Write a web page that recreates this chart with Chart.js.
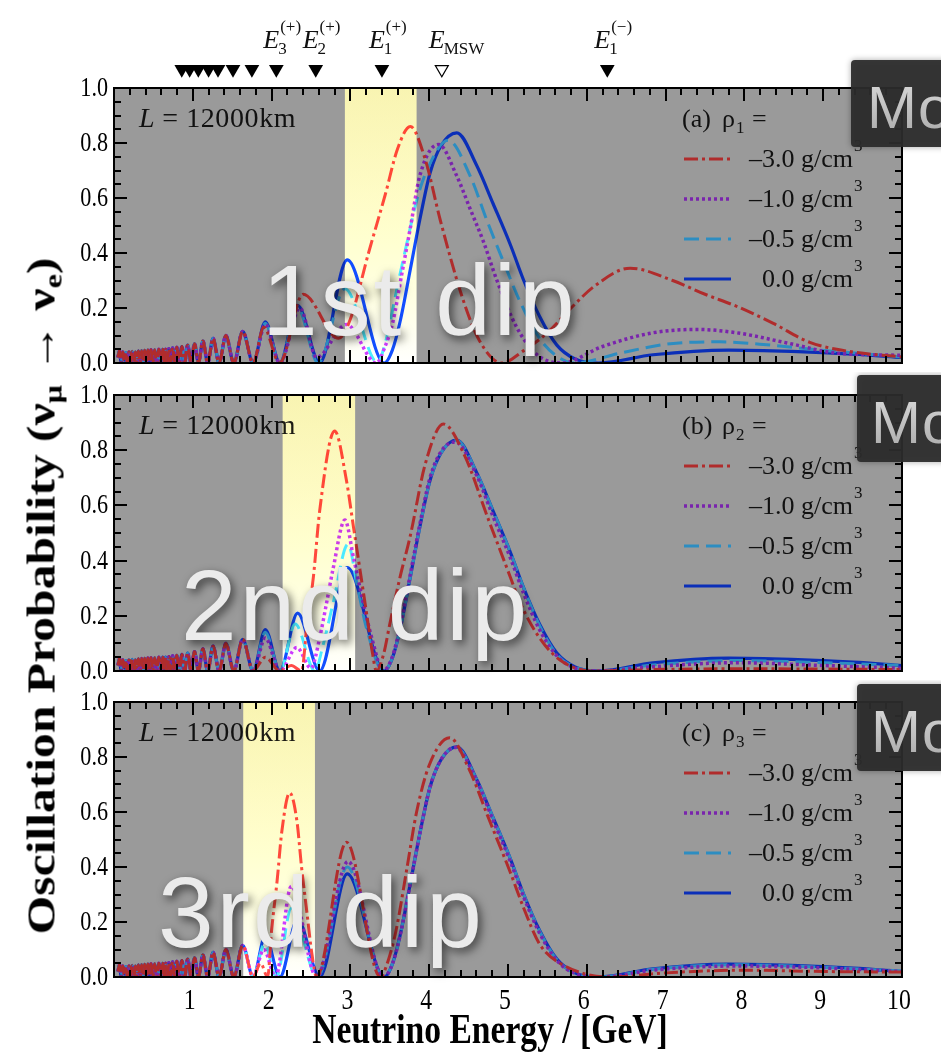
<!DOCTYPE html>
<html>
<head>
<meta charset="utf-8">
<script src="https://cdn.jsdelivr.net/npm/chart.js@4.4.1/dist/chart.umd.min.js"></script>
<style>
  html, body { margin: 0; padding: 0; background: #fff; }
  #wrap { position: relative; width: 941px; height: 1054px; overflow: hidden; background: #fff; }
  #wrap canvas { position: absolute; left: 0; }
  #ytitle {
    position: absolute; left: 41px; top: 596px;
    transform: translate(-50%, -50%) rotate(-90deg) scaleX(1.24);
    font: bold 40px "Liberation Serif", serif; white-space: nowrap; color: #000;
  }
  #ytitle sub { font-size: 26px; vertical-align: -7px; line-height: 0; }
</style>
</head>
<body>
<div id="wrap">
  <canvas id="panel-a" width="941" height="372" style="top:0px"></canvas>
  <canvas id="panel-b" width="941" height="308" style="top:372px"></canvas>
  <canvas id="panel-c" width="941" height="374" style="top:680px"></canvas>
  <div id="ytitle">Oscillation Probability (ν<sub>μ</sub> → ν<sub>e</sub>)</div>
</div>
<script>
// fast oscillations at low energy, shared by every curve
const lowWiggle = [
  [0.05, 0.02], [0.07, 0.045], [0.09, 0.0], [0.11, 0.04], [0.13, 0.01], [0.15, 0.038],
  [0.17, 0.0], [0.19, 0.04], [0.21, 0.005], [0.23, 0.042], [0.25, 0.0], [0.27, 0.04],
  [0.29, 0.008], [0.31, 0.044], [0.33, 0.0], [0.35, 0.045], [0.37, 0.005], [0.39, 0.046],
  [0.41, 0.0], [0.43, 0.047], [0.45, 0.003], [0.47, 0.048], [0.493, 0.0], [0.516, 0.048],
  [0.541, 0.0], [0.569, 0.05], [0.601, 0.0], [0.618, 0.05], [0.636, 0.0], [0.655, 0.05],
  [0.675, 0.0], [0.696, 0.052], [0.719, 0.0], [0.744, 0.055], [0.77, 0.0], [0.798, 0.057],
  [0.828, 0.0], [0.861, 0.06], [0.896, 0.0], [0.935, 0.065], [0.977, 0.0], [1.022, 0.07],
  [1.072, 0.0], [1.128, 0.08], [1.189, 0.0], [1.257, 0.09], [1.334, 0.0], [1.42, 0.1],
  [1.52, 0.0], [1.633, 0.115], [1.765, 0.0]
];

// 0.0 g/cm3 curve, identical in the three panels
const blueHigh = [
  [1.92, 0.15], [2.105, 0.0], [2.33, 0.21], [2.61, 0.0], [2.96, 0.375], [3.43, 0.0],
  [3.53, 0.045], [3.63, 0.15], [3.76, 0.34], [3.88, 0.52], [4.01, 0.69], [4.15, 0.79],
  [4.35, 0.837], [4.6, 0.72], [4.81, 0.58], [5.03, 0.43], [5.2, 0.3], [5.4, 0.17],
  [5.62, 0.065], [5.85, 0.015], [6.15, 0.0], [6.84, 0.03], [7.8, 0.047], [8.6, 0.042],
  [9.38, 0.032], [10, 0.02]
];

// (a) rho_1 varied
const redA = [
  [1.9, 0.13], [2.1, 0.0], [2.4, 0.25], [2.85, 0.09], [3.0, 0.16], [3.23, 0.4],
  [3.44, 0.61], [3.6, 0.78], [3.76, 0.86], [3.95, 0.74], [4.14, 0.52], [4.43, 0.23],
  [4.64, 0.08], [4.92, 0.0], [5.2, 0.045], [5.5, 0.11], [5.8, 0.2], [6.1, 0.28],
  [6.55, 0.345], [7.09, 0.3], [7.5, 0.25], [7.91, 0.205], [8.36, 0.145], [8.83, 0.075],
  [9.38, 0.04], [10, 0.022]
];
const purpleA = [
  [1.92, 0.14], [2.105, 0.0], [2.36, 0.2], [2.57, 0.02], [2.95, 0.14], [3.33, 0.0],
  [3.44, 0.06], [3.54, 0.15], [3.65, 0.32], [3.76, 0.49], [3.88, 0.68], [4.12, 0.795],
  [4.35, 0.68], [4.52, 0.56], [4.69, 0.44], [4.86, 0.3], [5.11, 0.13], [5.37, 0.03],
  [5.68, 0.0], [6.2, 0.06], [6.84, 0.11], [7.4, 0.122], [7.9, 0.11], [8.54, 0.073],
  [9.17, 0.036], [10, 0.028]
];
const cyanA = [
  [1.92, 0.145], [2.105, 0.0], [2.33, 0.2], [2.59, 0.0], [2.93, 0.27], [3.35, 0.0],
  [3.42, 0.05], [3.49, 0.13], [3.59, 0.27], [3.72, 0.44], [3.84, 0.59], [3.97, 0.7],
  [4.24, 0.81], [4.52, 0.68], [4.73, 0.52], [4.94, 0.37], [5.15, 0.225], [5.4, 0.09],
  [5.62, 0.025], [5.85, 0.0], [6.42, 0.036], [7.06, 0.07], [7.69, 0.077], [8.33, 0.065],
  [8.96, 0.047], [10, 0.022]
];

// (b) rho_2 varied
const redB = [
  [1.92, 0.05], [2.105, 0.0], [2.25, 0.02], [2.38, 0.0], [2.45, 0.17], [2.53, 0.34],
  [2.61, 0.58], [2.8, 0.87], [2.95, 0.69], [3.04, 0.52], [3.12, 0.37], [3.21, 0.2],
  [3.28, 0.065], [3.33, 0.0], [3.42, 0.06], [3.5, 0.17], [3.63, 0.34], [3.76, 0.49],
  [3.95, 0.75], [4.18, 0.895], [4.45, 0.78], [4.75, 0.55], [5.03, 0.34], [5.15, 0.25],
  [5.4, 0.12], [5.66, 0.04], [6.05, 0.0], [7.0, 0.006], [8.0, 0.008], [9.0, 0.007],
  [10, 0.005]
];
const purpleB = [
  [1.92, 0.12], [2.105, 0.0], [2.32, 0.085], [2.5, 0.01], [2.61, 0.12], [2.7, 0.25],
  [2.78, 0.37], [2.93, 0.547], [3.04, 0.41], [3.16, 0.25], [3.29, 0.1], [3.41, 0.0],
  [3.53, 0.05], [3.63, 0.16], [3.76, 0.35], [3.88, 0.53], [4.01, 0.7], [4.15, 0.795],
  [4.33, 0.83], [4.6, 0.71], [4.81, 0.56], [5.03, 0.41], [5.2, 0.28], [5.4, 0.15],
  [5.62, 0.055], [5.85, 0.01], [6.12, 0.0], [6.8, 0.015], [7.9, 0.03], [9.0, 0.02],
  [10, 0.01]
];
const cyanB = [
  [1.92, 0.14], [2.105, 0.0], [2.3, 0.17], [2.55, 0.0], [2.65, 0.09], [2.78, 0.245],
  [2.97, 0.46], [3.08, 0.32], [3.2, 0.16], [3.42, 0.0], [3.53, 0.045], [3.63, 0.15],
  [3.76, 0.34], [3.88, 0.52], [4.01, 0.69], [4.15, 0.79], [4.35, 0.835], [4.6, 0.72],
  [4.81, 0.58], [5.03, 0.43], [5.2, 0.3], [5.4, 0.165], [5.62, 0.06], [5.85, 0.013],
  [6.15, 0.0], [6.84, 0.022], [7.9, 0.038], [8.8, 0.032], [10, 0.02]
];

// (c) rho_3 varied
const redC = [
  [1.86, 0.05], [1.95, 0.0], [2.0, 0.17], [2.07, 0.35], [2.13, 0.53], [2.23, 0.67],
  [2.32, 0.57], [2.38, 0.4], [2.45, 0.23], [2.51, 0.087], [2.57, 0.0], [2.95, 0.49],
  [3.38, 0.0], [3.48, 0.06], [3.58, 0.17], [3.72, 0.4], [3.84, 0.6], [4.0, 0.77],
  [4.26, 0.87], [4.5, 0.76], [4.75, 0.58], [5.03, 0.38], [5.2, 0.25], [5.4, 0.12],
  [5.66, 0.05], [6.3, 0.0], [7.0, 0.015], [8.0, 0.025], [9.0, 0.02], [10, 0.018]
];
const purpleC = [
  [1.9, 0.1], [2.05, 0.0], [2.25, 0.33], [2.57, 0.0], [2.97, 0.42], [3.42, 0.0],
  [3.53, 0.045], [3.63, 0.15], [3.76, 0.34], [3.88, 0.52], [4.01, 0.69], [4.15, 0.79],
  [4.33, 0.835], [4.6, 0.715], [4.81, 0.57], [5.03, 0.42], [5.2, 0.29], [5.4, 0.16],
  [5.62, 0.06], [5.85, 0.013], [6.2, 0.0], [6.84, 0.025], [7.9, 0.04], [8.8, 0.035],
  [10, 0.02]
];
const cyanC = [
  [1.91, 0.12], [2.06, 0.0], [2.25, 0.25], [2.58, 0.0], [2.96, 0.4], [3.42, 0.0],
  [3.53, 0.045], [3.63, 0.15], [3.76, 0.34], [3.88, 0.52], [4.01, 0.69], [4.15, 0.79],
  [4.34, 0.836], [4.6, 0.72], [4.81, 0.58], [5.03, 0.43], [5.2, 0.3], [5.4, 0.168],
  [5.62, 0.063], [5.85, 0.014], [6.15, 0.0], [6.84, 0.028], [7.8, 0.045], [8.6, 0.04],
  [10, 0.022]
];

// highlighted energy windows (GeV)
const bandA = [2.93, 3.84];
const bandB = [2.14, 3.06];
const bandC = [1.64, 2.55];

// resonance energies marked above panel (a)
const resonanceE = [0.86, 0.96, 1.07, 1.2, 1.32, 1.51, 1.75, 2.06, 2.56, 3.4, 6.26];
const mswE = [4.16];
const markerNames = [
  { e: 2.06, sub: '3', sup: '(+)' },
  { e: 2.56, sub: '2', sup: '(+)' },
  { e: 3.4, sub: '1', sup: '(+)' },
  { e: 4.16, sub: 'MSW', sup: '' },
  { e: 6.26, sub: '1', sup: '(−)' }
];

const densityLabels = ['–3.0', '–1.0', '–0.5', '0.0'];
const yTicks = [0, 0.2, 0.4, 0.6, 0.8, 1.0];
const xTicks = [1, 2, 3, 4, 5, 6, 7, 8, 9, 10];

const seriesStyle = [
  { color: '#b02c2c', dash: [14, 4, 3, 4], width: 3 },
  { color: '#7a24ad', dash: [3, 3], width: 3.5 },
  { color: '#2d8dc1', dash: [15, 7], width: 3 },
  { color: '#0b2fb8', dash: [], width: 3.2 }
];
const markerLevel = 1.068;
const serif = '"Liberation Serif", "Times New Roman", serif';

function curveSets(curves) {
  return curves.map((pts, i) => ({
    data: pts,
    borderColor: seriesStyle[i].color,
    borderDash: seriesStyle[i].dash,
    borderWidth: seriesStyle[i].width,
    borderJoinStyle: 'round',
    pointRadius: 0,
    fill: false,
    cubicInterpolationMode: 'monotone'
  }));
}

// condensed text, the way the axis labels are set
function squeezeText(ctx, text, x, y, sx) {
  ctx.save();
  ctx.translate(x, y);
  ctx.scale(sx, 1);
  ctx.fillText(text, 0, 0);
  ctx.restore();
}

function drawDistance(ctx, a) {
  ctx.save();
  ctx.fillStyle = '#111';
  ctx.textBaseline = 'alphabetic';
  ctx.font = 'italic 28px ' + serif;
  ctx.fillText('L', 139, a.top + 39);
  const w = ctx.measureText('L').width;
  ctx.font = '28px ' + serif;
  ctx.letterSpacing = '0.6px';
  ctx.fillText(' = 12000km', 139 + w, a.top + 39);
  ctx.restore();
}

function drawLegend(chart, o) {
  const { ctx, chartArea: a } = chart;
  ctx.save();
  ctx.fillStyle = '#111';
  ctx.textBaseline = 'alphabetic';
  ctx.textAlign = 'left';
  ctx.font = '26px ' + serif;
  ctx.fillText(o.tag, 682, a.top + 39);
  ctx.fillText('ρ', 722, a.top + 39);
  ctx.fillText('=', 752, a.top + 39);
  ctx.font = '17px ' + serif;
  ctx.fillText(o.rho, 736, a.top + 45);
  chart.data.datasets.slice(0, 4).forEach((ds, i) => {
    const base = a.top + 79 + i * 40;
    ctx.save();
    ctx.strokeStyle = ds.borderColor;
    ctx.lineWidth = ds.borderWidth;
    ctx.setLineDash(ds.borderDash);
    ctx.beginPath();
    ctx.moveTo(684, base - 8);
    ctx.lineTo(731, base - 8);
    ctx.stroke();
    ctx.restore();
    ctx.font = '26px ' + serif;
    ctx.textAlign = 'right';
    ctx.fillText(densityLabels[i] + ' g/cm', 853, base);
    ctx.textAlign = 'left';
    ctx.font = '17px ' + serif;
    ctx.fillText('3', 854, base - 16);
  });
  ctx.restore();
}

// bright window: dodges the grey to pale yellow and lifts the curve colours
function drawBand(chart, range) {
  const { ctx, chartArea: a, scales: { x } } = chart;
  const x0 = x.getPixelForValue(range[0]);
  const x1 = x.getPixelForValue(range[1]);
  const g = ctx.createLinearGradient(0, a.top, 0, a.bottom);
  g.addColorStop(0, 'rgb(97,94,34)');
  g.addColorStop(0.55, 'rgb(102,101,66)');
  g.addColorStop(1, 'rgb(105,105,100)');
  ctx.save();
  ctx.beginPath();
  ctx.rect(a.left, a.top, a.right - a.left, a.bottom - a.top);
  ctx.clip();
  ctx.globalCompositeOperation = 'color-dodge';
  ctx.fillStyle = g;
  ctx.fillRect(x0, a.top, x1 - x0, a.bottom - a.top);
  ctx.restore();
}

function drawFrame(chart, withEnergyAxis) {
  const { ctx, chartArea: a, scales: { x, y } } = chart;
  ctx.save();
  ctx.strokeStyle = '#000';
  ctx.lineWidth = 2;
  ctx.strokeRect(a.left, a.top, a.right - a.left, a.bottom - a.top);
  ctx.beginPath();
  for (let i = 0; i <= 50; i++) {
    const px = Math.round(x.getPixelForValue(i * 0.2));
    const len = i % 5 === 0 ? 13 : 7;
    ctx.moveTo(px, a.top); ctx.lineTo(px, a.top + len);
    ctx.moveTo(px, a.bottom); ctx.lineTo(px, a.bottom - len);
  }
  for (let j = 0; j <= 20; j++) {
    const py = Math.round(y.getPixelForValue(j * 0.05));
    const len = j % 4 === 0 ? 13 : 7;
    ctx.moveTo(a.left, py); ctx.lineTo(a.left + len, py);
    ctx.moveTo(a.right, py); ctx.lineTo(a.right - len, py);
  }
  ctx.stroke();

  ctx.fillStyle = '#000';
  ctx.font = '27px ' + serif;
  ctx.textAlign = 'right';
  ctx.textBaseline = 'middle';
  yTicks.forEach(v => squeezeText(ctx, v.toFixed(1), a.left - 6, y.getPixelForValue(v) + 1, 0.82));

  if (withEnergyAxis) {
    ctx.textAlign = 'center';
    ctx.font = '29px ' + serif;
    xTicks.forEach(v => squeezeText(ctx, String(v), x.getPixelForValue(v) - 3, a.bottom + 24, 0.82));
    ctx.textBaseline = 'alphabetic';
    ctx.font = 'bold 42px ' + serif;
    squeezeText(ctx, 'Neutrino Energy / [GeV]', 490, a.bottom + 66, 0.8);
  }
  ctx.restore();
}

function drawDip(ctx, d) {
  ctx.save();
  ctx.font = '100px "Liberation Sans", Arial, sans-serif';
  ctx.letterSpacing = '3px';
  ctx.textBaseline = 'alphabetic';
  ctx.textAlign = 'left';
  ctx.fillStyle = '#ebebeb';
  ctx.shadowColor = 'rgba(0,0,0,0.6)';
  ctx.shadowBlur = 10;
  ctx.shadowOffsetX = 3;
  ctx.shadowOffsetY = 4;
  ctx.fillText(d.text, d.x, d.y);
  ctx.restore();
}

function drawMoBox(ctx, m) {
  ctx.save();
  ctx.shadowColor = 'rgba(0,0,0,0.35)';
  ctx.shadowBlur = 6;
  ctx.fillStyle = 'rgba(44,44,44,0.94)';
  ctx.beginPath();
  ctx.roundRect(m.x, m.y, 110, 87, 4);
  ctx.fill();
  ctx.shadowColor = 'transparent';
  const g = ctx.createLinearGradient(0, m.y + 20, 0, m.y + 70);
  g.addColorStop(0, '#d8d8d8');
  g.addColorStop(1, '#b0b0b0');
  ctx.fillStyle = g;
  ctx.font = '60px "Liberation Sans", Arial, sans-serif';
  ctx.letterSpacing = '1px';
  ctx.textBaseline = 'alphabetic';
  ctx.fillText('Mo', m.x + m.tx, m.y + 68);
  ctx.restore();
}

// resonance triangles above panel (a), placed with the panel's own scales
function drawMarkers(chart) {
  const { ctx, scales: { x, y } } = chart;
  const py = y.getPixelForValue(markerLevel);
  ctx.save();
  ctx.fillStyle = '#000';
  ctx.strokeStyle = '#000';
  resonanceE.forEach(e => {
    Chart.helpers.drawPoint(ctx, { pointStyle: 'triangle', rotation: 180, radius: 8.5, borderWidth: 0 },
      x.getPixelForValue(e), py);
  });
  ctx.fillStyle = 'rgba(0,0,0,0)';
  ctx.lineWidth = 1.2;
  mswE.forEach(e => {
    Chart.helpers.drawPoint(ctx, { pointStyle: 'triangle', rotation: 180, radius: 7.5, borderWidth: 1.2 },
      x.getPixelForValue(e), py);
  });
  ctx.restore();

  ctx.save();
  ctx.fillStyle = '#111';
  ctx.textBaseline = 'alphabetic';
  markerNames.forEach(m => {
    const left = x.getPixelForValue(m.e) - 13;
    ctx.font = 'italic 26px ' + serif;
    ctx.fillText('E', left, 48);
    const w = ctx.measureText('E').width;
    ctx.font = '17px ' + serif;
    ctx.fillText(m.sub, left + w - 1, 54);
    if (m.sup) ctx.fillText(m.sup, left + w + 1, 32);
  });
  ctx.restore();
}

const panelDecor = {
  id: 'panelDecor',
  beforeDatasetsDraw(chart) {
    const { ctx, chartArea: a } = chart;
    ctx.save();
    ctx.fillStyle = '#9a9a9a';
    ctx.fillRect(a.left, a.top, a.right - a.left, a.bottom - a.top);
    ctx.restore();
  },
  afterDatasetsDraw(chart, args, o) {
    const { ctx, chartArea: a } = chart;
    drawDistance(ctx, a);
    drawLegend(chart, o);
    drawBand(chart, o.band);
    drawFrame(chart, o.energyAxis);
    drawDip(ctx, o.dip);
    drawMoBox(ctx, o.mo);
    if (o.markers) drawMarkers(chart);
  }
};

function makePanel(id, curves, padding, decor) {
  return new Chart(document.getElementById(id), {
    type: 'line',
    data: { datasets: curveSets(curves) },
    options: {
      responsive: false,
      animation: false,
      events: [],
      layout: { padding: padding },
      scales: {
        x: { type: 'linear', min: 0, max: 10, display: false },
        y: { type: 'linear', min: 0, max: 1, display: false }
      },
      plugins: {
        legend: { display: false },
        tooltip: { enabled: false },
        panelDecor: decor
      }
    },
    plugins: [panelDecor]
  });
}

makePanel('panel-a',
  [lowWiggle.concat(redA), lowWiggle.concat(purpleA), lowWiggle.concat(cyanA), lowWiggle.concat(blueHigh)],
  { left: 114, right: 39, top: 88, bottom: 9 },
  { band: bandA, tag: '(a)', rho: '1', dip: { text: '1st dip', x: 262, y: 335 }, mo: { x: 851, y: 60, tx: 16 }, markers: true });

makePanel('panel-b',
  [lowWiggle.concat(redB), lowWiggle.concat(purpleB), lowWiggle.concat(cyanB), lowWiggle.concat(blueHigh)],
  { left: 114, right: 39, top: 23, bottom: 9 },
  { band: bandB, tag: '(b)', rho: '2', dip: { text: '2nd dip', x: 181, y: 268 }, mo: { x: 857, y: 3, tx: 14 } });

makePanel('panel-c',
  [lowWiggle.concat(redC), lowWiggle.concat(purpleC), lowWiggle.concat(cyanC), lowWiggle.concat(blueHigh)],
  { left: 114, right: 39, top: 22, bottom: 77 },
  { band: bandC, tag: '(c)', rho: '3', dip: { text: '3rd dip', x: 158, y: 267 }, mo: { x: 857, y: 4, tx: 14 }, energyAxis: true });
</script>
</body>
</html>
